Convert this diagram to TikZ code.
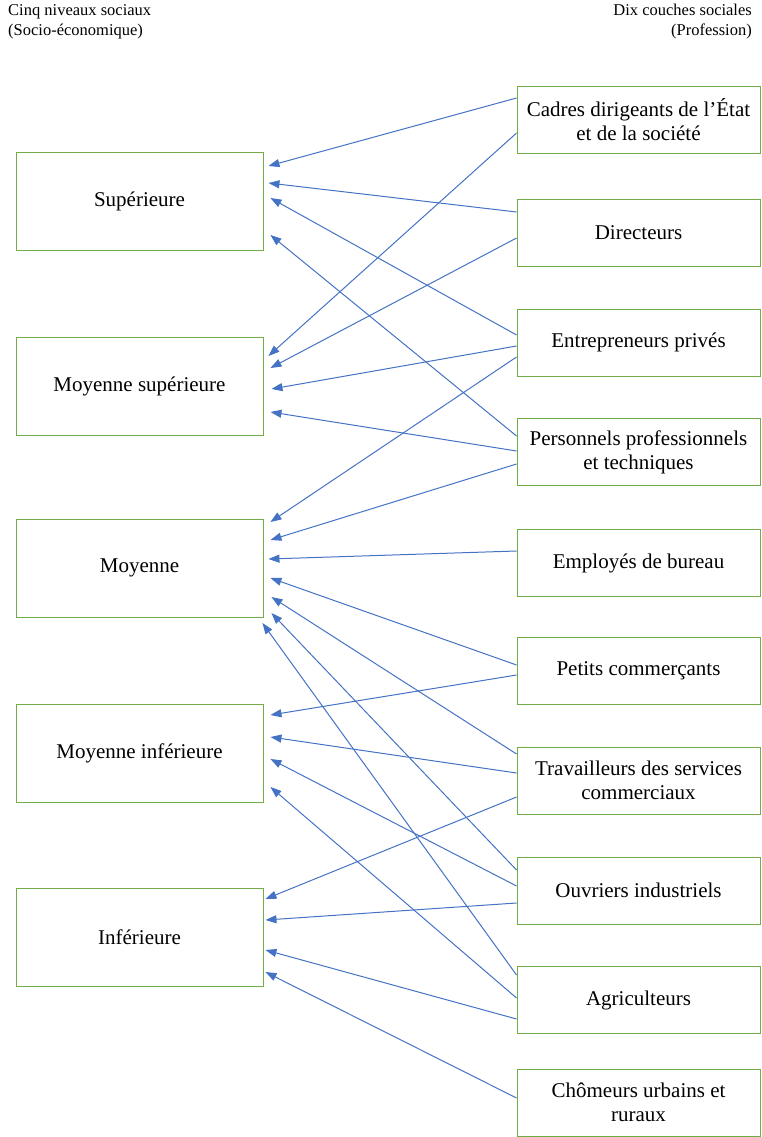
\documentclass[tikz,border=0pt]{standalone}
\usepackage{fontspec}
\setmainfont{Liberation Serif}
\usetikzlibrary{arrows.meta}
\definecolor{boxgreen}{RGB}{112,173,71}
\definecolor{linkblue}{RGB}{68,114,196}

\begin{document}
\begin{tikzpicture}[
        x=1pt, y=1pt,
        levelNode/.style={rectangle, draw=boxgreen, line width=0.9pt, minimum width=247pt, minimum height=98pt, inner sep=0pt, font=\fontsize{21}{24}\selectfont},
        layerNode/.style={rectangle, draw=boxgreen, line width=0.9pt, minimum width=243pt, minimum height=67pt, inner sep=0pt, align=center, font=\fontsize{21}{24}\selectfont},
        headNode/.style={inner sep=0pt, font=\fontsize{16.5}{20}\selectfont},
        link/.style={draw=linkblue, line width=1pt, -{Triangle[length=11pt,width=8pt]}}
    ]
        \useasboundingbox (0,0) rectangle (761,-1137);

        % Headers
        \node[headNode, anchor=north west, align=left] (headL) at (8,-4) {Cinq niveaux sociaux\\(Socio-économique)};
        \node[headNode, anchor=north east, align=right] (headR) at (752,-4) {Dix couches sociales\\(Profession)};

        % Five social levels
        \node[levelNode] (sup) at (139.5,-201.5) {Supérieure};
        \node[levelNode] (moysup) at (139.5,-386.5) {Moyenne supérieure};
        \node[levelNode] (moy) at (139.5,-568) {Moyenne};
        \node[levelNode] (moyinf) at (139.5,-753) {Moyenne inférieure};
        \node[levelNode] (inf) at (139.5,-937) {Inférieure};

        % Ten social strata
        \node[layerNode] (cadres) at (638.5,-120) {Cadres dirigeants de l’État\\et de la société};
        \node[layerNode] (dir) at (638.5,-233) {Directeurs};
        \node[layerNode] (entr) at (638.5,-342.5) {Entrepreneurs privés};
        \node[layerNode] (pers) at (638.5,-452) {Personnels professionnels\\et techniques};
        \node[layerNode] (empl) at (638.5,-563) {Employés de bureau};
        \node[layerNode] (petits) at (638.5,-671) {Petits commerçants};
        \node[layerNode] (trav) at (638.5,-780.5) {Travailleurs des services\\commerciaux};
        \node[layerNode] (ouvr) at (638.5,-890.5) {Ouvriers industriels};
        \node[layerNode] (agri) at (638.5,-1000) {Agriculteurs};
        \node[layerNode] (chom) at (638.5,-1102.5) {Chômeurs urbains et\\ruraux};

        % Links to Supérieure
        \draw[link] ([yshift=22pt]cadres.west) -- ([xshift=5pt,yshift=35.5pt]sup.east);
        \draw[link] ([yshift=21pt]dir.west) -- ([xshift=5pt,yshift=18.5pt]sup.east);
        \draw[link] ([yshift=7.5pt]entr.west) -- ([xshift=7pt,yshift=3.5pt]sup.east);
        \draw[link] ([yshift=16pt]pers.west) -- ([xshift=7pt,yshift=-33.5pt]sup.east);

        % Links to Moyenne supérieure
        \draw[link] ([yshift=-13pt]cadres.west) -- ([xshift=5pt,yshift=30.5pt]moysup.east);
        \draw[link] ([yshift=-5pt]dir.west) -- ([xshift=7pt,yshift=18.5pt]moysup.east);
        \draw[link] ([yshift=-3.5pt]entr.west) -- ([xshift=8pt,yshift=-2.5pt]moysup.east);
        \draw[link] ([yshift=1pt]pers.west) -- ([xshift=7pt,yshift=-25.5pt]moysup.east);

        % Links to Moyenne
        \draw[link] ([yshift=-14.5pt]entr.west) -- ([xshift=7pt,yshift=46pt]moy.east);
        \draw[link] ([yshift=-12pt]pers.west) -- ([xshift=7pt,yshift=28pt]moy.east);
        \draw[link] ([yshift=12pt]empl.west) -- ([xshift=5pt,yshift=9pt]moy.east);
        \draw[link] ([yshift=6pt]petits.west) -- ([xshift=7pt,yshift=-10pt]moy.east);
        \draw[link] ([yshift=26.5pt]trav.west) -- ([xshift=8pt,yshift=-29pt]moy.east);
        \draw[link] ([yshift=20.5pt]ouvr.west) -- ([xshift=8pt,yshift=-45pt]moy.east);
        \draw[link] ([yshift=25pt]agri.west) -- ([xshift=-1pt,yshift=-55pt]moy.east);

        % Links to Moyenne inférieure
        \draw[link] ([yshift=-4pt]petits.west) -- ([xshift=7pt,yshift=38pt]moyinf.east);
        \draw[link] ([yshift=7.5pt]trav.west) -- ([xshift=7pt,yshift=16pt]moyinf.east);
        \draw[link] ([yshift=4.5pt]ouvr.west) -- ([xshift=7pt,yshift=-6pt]moyinf.east);
        \draw[link] ([yshift=2pt]agri.west) -- ([xshift=7pt,yshift=-34pt]moyinf.east);

        % Links to Inférieure
        \draw[link] ([yshift=-16.5pt]trav.west) -- ([xshift=2pt,yshift=38pt]inf.east);
        \draw[link] ([yshift=-12.5pt]ouvr.west) -- ([xshift=2pt,yshift=17pt]inf.east);
        \draw[link] ([yshift=-19pt]agri.west) -- ([xshift=2pt,yshift=-13pt]inf.east);
        \draw[link] ([yshift=4.5pt]chom.west) -- ([xshift=2pt,yshift=-35pt]inf.east);
    \end{tikzpicture}
\end{document}
